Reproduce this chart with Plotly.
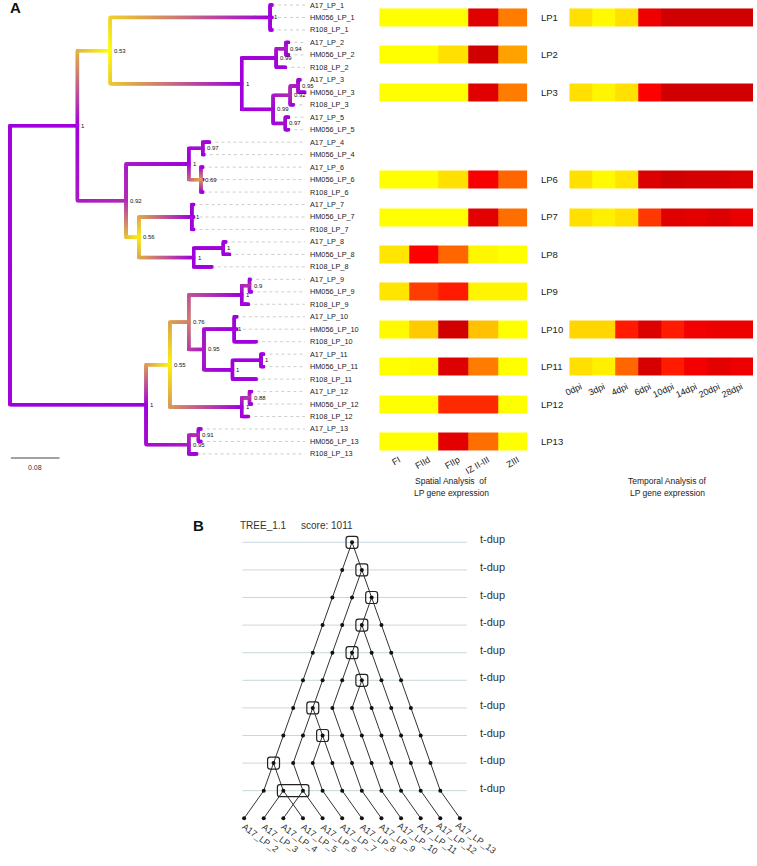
import numpy as np
import plotly.graph_objects as go

W, H = 757, 866
FONT = "Liberation Sans, Arial, sans-serif"

# ---------------- Panel A: phylogeny (node depth in substitutions/site) ----------------
node_ids = ["root", "n1", "n053", "nlp1", "n1b", "nlp2", "n094", "n099b", "n092b", "n095", "n097",
            "n092", "n1c", "n097c", "n069", "n056", "nlp7", "nlp8", "n1d",
            "n1e", "n055", "n076", "nlp9", "n09", "n095c", "nlp10", "nlp11", "n1f", "nlp12", "n088",
            "nlp13", "n091"]
node_parent = [None, "root", "n1", "n053", "n053", "n1b", "nlp2", "n1b", "n099b", "n092b", "n099b",
               "n1", "n092", "n1c", "n1c", "n092", "n056", "n056", "nlp8",
               "root", "n1e", "n055", "n076", "nlp9", "n076", "n095c", "n095c", "nlp11", "n055", "nlp12",
               "n1e", "nlp13"]
node_depth = [0.000, 0.111, 0.165, 0.428, 0.381, 0.438, 0.454, 0.433, 0.461, 0.474, 0.453,
              0.191, 0.294, 0.317, 0.314, 0.212, 0.299, 0.302, 0.351,
              0.224, 0.263, 0.294, 0.381, 0.394, 0.319, 0.369, 0.366, 0.413, 0.381, 0.394,
              0.294, 0.310]
node_support = [1.00, 1.00, 0.53, 1.00, 1.00, 0.99, 0.94, 0.99, 0.92, 0.95, 0.97,
                0.92, 1.00, 0.97, 0.69, 0.56, 1.00, 1.00, 1.00,
                1.00, 0.55, 0.76, 1.00, 0.90, 0.95, 1.00, 1.00, 1.00, 1.00, 0.88,
                0.95, 0.91]

leaf_names = ["A17_LP_1", "HM056_LP_1", "R108_LP_1", "A17_LP_2", "HM056_LP_2", "R108_LP_2",
              "A17_LP_3", "HM056_LP_3", "R108_LP_3", "A17_LP_5", "HM056_LP_5", "A17_LP_4", "HM056_LP_4",
              "A17_LP_6", "HM056_LP_6", "R108_LP_6", "A17_LP_7", "HM056_LP_7", "R108_LP_7",
              "A17_LP_8", "HM056_LP_8", "R108_LP_8", "A17_LP_9", "HM056_LP_9", "R108_LP_9",
              "A17_LP_10", "HM056_LP_10", "R108_LP_10", "A17_LP_11", "HM056_LP_11", "R108_LP_11",
              "A17_LP_12", "HM056_LP_12", "R108_LP_12", "A17_LP_13", "HM056_LP_13", "R108_LP_13"]
leaf_parent = ["nlp1", "nlp1", "nlp1", "n094", "n094", "nlp2",
               "n095", "n095", "n092b", "n097", "n097", "n097c", "n097c",
               "n069", "n069", "n069", "nlp7", "nlp7", "nlp7",
               "n1d", "n1d", "nlp8", "n09", "n09", "nlp9",
               "nlp10", "nlp10", "nlp10", "n1f", "n1f", "nlp11",
               "n088", "n088", "nlp12", "n091", "n091", "nlp13"]
leaf_depth = [0.431, 0.431, 0.431, 0.458, 0.458, 0.453,
              0.477, 0.485, 0.466, 0.458, 0.458, 0.328, 0.319,
              0.317, 0.317, 0.317, 0.302, 0.302, 0.302,
              0.355, 0.361, 0.332, 0.395, 0.397, 0.392,
              0.373, 0.373, 0.405, 0.417, 0.417, 0.405,
              0.397, 0.397, 0.392, 0.314, 0.314, 0.307]
scale_bar = 0.08

# ---------------- Panel A: expression heatmaps ----------------
spatial_cols = ["FI", "FIId", "FIIp", "IZ II-III", "ZIII"]
spatial_rows = ["LP1", "LP2", "LP3", "LP6", "LP7", "LP8", "LP9", "LP10", "LP11", "LP12", "LP13"]
spatial_vals = [
    [0.00, 0.00, 0.00, 0.88, 0.48],
    [0.00, 0.00, 0.12, 0.95, 0.36],
    [0.00, 0.00, 0.00, 0.88, 0.48],
    [0.00, 0.00, 0.12, 0.78, 0.55],
    [0.00, 0.00, 0.00, 0.87, 0.52],
    [0.10, 0.76, 0.55, 0.03, 0.00],
    [0.10, 0.63, 0.70, 0.04, 0.04],
    [0.02, 0.20, 0.95, 0.24, 0.00],
    [0.00, 0.02, 0.90, 0.48, 0.00],
    [0.00, 0.00, 0.67, 0.67, 0.00],
    [0.00, 0.00, 0.87, 0.52, 0.00],
]
temporal_cols = ["0dpi", "3dpi", "4dpi", "6dpi", "10dpi", "14dpi", "20dpi", "28dpi"]
temporal_rows = ["LP1", "LP3", "LP6", "LP7", "LP10", "LP11"]
temporal_vals = [
    [0.12, 0.02, 0.12, 0.82, 0.95, 0.95, 0.95, 0.95],
    [0.12, 0.04, 0.12, 0.75, 0.95, 0.95, 0.95, 0.95],
    [0.12, 0.02, 0.10, 0.90, 0.95, 0.93, 0.92, 0.90],
    [0.12, 0.06, 0.12, 0.64, 0.88, 0.86, 0.90, 0.84],
    [0.16, 0.16, 0.70, 0.90, 0.70, 0.80, 0.83, 0.83],
    [0.12, 0.06, 0.55, 0.92, 0.70, 0.80, 0.86, 0.82],
]

# ---------------- Panel B: tandem duplication tree ----------------
dup_blocks = [[0], [1], [2], [2], [2], [3], [1], [2], [0], [1, 2]]   # duplicating lineages per level
dup_leaves = ["A17_LP_2", "A17_LP_3", "A17_LP_4", "A17_LP_5", "A17_LP_6", "A17_LP_7",
              "A17_LP_8", "A17_LP_9", "A17_LP_10", "A17_LP_11", "A17_LP_12", "A17_LP_13"]
dup_level_label = "t-dup"
tree_name = "TREE_1.1"
tree_score = 1011

# ======================= layout scales =======================
PXU, X0 = 612.0, 5.0          # px per substitution unit, root x
PXL, Y0 = 12.47, 5.0          # px per leaf row, first leaf y
BX0, BXS = 240.7, 9.875       # panel B: x of first leaf, px per half leaf step
BY0, BYS = 542.3, 27.6        # panel B: y of level 1, px per level

fig = go.Figure()

# ---------- tree geometry ----------
parent = dict(zip(node_ids, node_parent)); parent.update(zip(leaf_names, leaf_parent))
depth = dict(zip(node_ids, node_depth)); depth.update(zip(leaf_names, leaf_depth))
support = dict(zip(node_ids, node_support)); support.update({l: 1.0 for l in leaf_names})
children = {n: [] for n in node_ids}
for lf in leaf_names:
    c = lf
    while parent[c] is not None:
        p = parent[c]
        if c not in children[p]:
            children[p].append(c)
        c = p
ypos = {lf: i for i, lf in enumerate(leaf_names)}


def gety(n):
    if n not in ypos:
        ys = [gety(c) for c in children[n]]
        ypos[n] = (ys[0] + ys[-1]) / 2.0
    return ypos[n]


gety("root")


def tcol(s):
    return float(np.clip((s - 0.53) / 0.47, 0, 1))


px_, py_, pc_ = [], [], []
for c in node_ids[1:] + leaf_names:
    p = parent[c]
    xp, yp, xc, yc = depth[p], ypos[p], depth[c], ypos[c]
    lv = abs(yc - yp) * PXL
    lh = (xc - xp) * PXU
    L = lv + lh
    n = max(2, int(np.ceil(L / 0.7)) + 1)
    s = np.linspace(0, L, n)
    xs = np.where(s <= lv, xp, xp + (s - lv) / PXU)
    ys = np.where(s <= lv, yp + np.sign(yc - yp) * s / PXL, yc)
    tp, tc = tcol(support[p]), tcol(support[c])
    cs = tp + (tc - tp) * s / max(L, 1e-9)
    px_ += list(xs); py_ += list(ys); pc_ += list(cs)

LABEL_D = (305 - X0) / PXU
LEAD_END = (302 - X0) / PXU
lx, ly = [], []
for lf in leaf_names:
    lx += [depth[lf], LEAD_END, None]
    ly += [ypos[lf], ypos[lf], None]
fig.add_trace(go.Scatter(x=lx, y=ly, mode="lines", xaxis="x", yaxis="y",
                         line=dict(color="#c0c0c0", width=0.8, dash="dot"), hoverinfo="skip"))
fig.add_trace(go.Scatter(x=px_, y=py_, mode="markers", xaxis="x", yaxis="y", hoverinfo="skip",
                         marker=dict(symbol="square", size=3.2, color=pc_, cmin=0, cmax=1,
                                     colorscale=[[0, "#FFFF00"], [1, "#A000DC"]],
                                     line=dict(width=0), showscale=False)))

ann = []
for lf in leaf_names:
    ann.append(dict(x=LABEL_D, y=ypos[lf], xref="x", yref="y", text=lf, showarrow=False,
                    xanchor="left", yanchor="middle", font=dict(size=7.3, color="#222")))
for nid, s in zip(node_ids[1:], node_support[1:]):
    txt = "1" if s == 1 else ("%g" % s)
    ann.append(dict(x=depth[nid], y=ypos[nid], xref="x", yref="y", text=txt, showarrow=False,
                    xanchor="left", yanchor="middle", xshift=2, font=dict(size=6, color="#111")))

# scale bar
sb_y = (458 - Y0) / PXL
shapes = [dict(type="line", xref="x", yref="y", x0=0.0015, x1=0.0015 + scale_bar, y0=sb_y, y1=sb_y,
               line=dict(color="#444", width=1))]
ann.append(dict(x=0.0015 + scale_bar / 2, y=sb_y, xref="x", yref="y", text="%g" % scale_bar,
                showarrow=False, yshift=-9, font=dict(size=7, color="#333")))

# ---------- heatmaps ----------
HCOLS = [[0, "#FFFF00"], [0.12, "#FFE000"], [0.35, "#FFA500"], [0.55, "#FF6600"],
         [0.75, "#FF0000"], [1, "#C40000"]]
HALF = 9.0 / PXL


def heat(rows, vals, xa, ya):
    edges, z = [], []
    for k, (r, v) in enumerate(zip(rows, vals)):
        c = ypos["HM056_LP_" + r[2:]]
        edges += [c - HALF, c + HALF]
        if k:
            z.append([None] * len(v))
        z.append(v)
    fig.add_trace(go.Heatmap(x=list(range(len(vals[0]))), y=edges, z=z, xaxis=xa, yaxis=ya,
                             colorscale=HCOLS, zmin=0, zmax=1, showscale=False, hoverinfo="skip"))


heat(spatial_rows, spatial_vals, "x2", "y2")
heat(temporal_rows, temporal_vals, "x3", "y3")
for r in spatial_rows:
    ann.append(dict(x=538 / W, y=ypos["HM056_LP_" + r[2:]], xref="paper", yref="y", text=r,
                    showarrow=False, xanchor="left", yanchor="middle", font=dict(size=9.5, color="#222")))
for t, xc in (("Spatial Analysis  of", 449), ("Temporal Analysis of", 667)):
    ann.append(dict(x=xc / W, y=1 - 481 / H, xref="paper", yref="paper", text=t, showarrow=False,
                    xanchor="center", yanchor="middle", font=dict(size=8.5, color="#222")))
    ann.append(dict(x=xc / W, y=1 - 493 / H, xref="paper", yref="paper", text="LP gene expression",
                    showarrow=False, xanchor="center", yanchor="middle", font=dict(size=8.5, color="#222")))

# ---------- panel B ----------
n_leaves = len(dup_leaves)
center = n_leaves - 1
cnt = 1
seg_x, seg_y, dot_x, dot_y, boxes = [], [], [], [], []


def bpos(n, j):
    return center - (n - 1) + 2 * j


for L, blk in enumerate(dup_blocks, start=1):
    m = len(blk)
    for j in range(cnt):
        dot_x.append(bpos(cnt, j)); dot_y.append(L)
        if j < blk[0]:
            kids = [j]
        elif j in blk:
            r = j - blk[0]
            kids = [blk[0] + r, blk[0] + m + r]
        else:
            kids = [j + m]
        for k in kids:
            seg_x += [bpos(cnt, j), bpos(cnt + m, k), None]
            seg_y += [L, L + 1, None]
    boxes.append((L, bpos(cnt, blk[0]), bpos(cnt, blk[-1])))
    cnt += m
leaf_level = len(dup_blocks) + 1
for j in range(cnt):
    dot_x.append(bpos(cnt, j)); dot_y.append(leaf_level)

for L in range(1, len(dup_blocks) + 1):
    shapes.append(dict(type="line", xref="x4", yref="y4", x0=-0.17, x1=22.7, y0=L, y1=L, layer="below",
                       line=dict(color="#c9d7db", width=1)))
    ann.append(dict(x=(476 - BX0) / BXS, y=L, xref="x4", yref="y4", text=dup_level_label, showarrow=False,
                    xanchor="left", yanchor="middle", yshift=3, font=dict(size=11, color="#333")))

fig.add_trace(go.Scatter(x=seg_x, y=seg_y, mode="lines", xaxis="x4", yaxis="y4",
                         line=dict(color="#333", width=1), hoverinfo="skip"))
fig.add_trace(go.Scatter(x=dot_x, y=dot_y, mode="markers", xaxis="x4", yaxis="y4",
                         marker=dict(size=4, color="#111"), hoverinfo="skip"))


def rrect(x0, x1, y0, y1, rx, ry):
    return (f"M{x0+rx},{y0} L{x1-rx},{y0} Q{x1},{y0} {x1},{y0+ry} L{x1},{y1-ry} "
            f"Q{x1},{y1} {x1-rx},{y1} L{x0+rx},{y1} Q{x0},{y1} {x0},{y1-ry} "
            f"L{x0},{y0+ry} Q{x0},{y0} {x0+rx},{y0} Z")


hx, hy = 6.0 / BXS, 6.0 / BYS
for L, a, b in boxes:
    shapes.append(dict(type="path", xref="x4", yref="y4",
                       path=rrect(a - hx, b + hx, L - hy, L + hy, 2.5 / BXS, 2.5 / BYS),
                       line=dict(color="#222", width=1.2)))

for j, name in enumerate(dup_leaves):
    ann.append(dict(x=2 * j, y=leaf_level, xref="x4", yref="y4", text=name, showarrow=False,
                    textangle=36, xanchor="center", yanchor="middle", xshift=16, yshift=-20,
                    font=dict(size=9, color="#333")))
ann.append(dict(x=235 / W, y=1 - 525 / H, xref="paper", yref="paper", text=tree_name, showarrow=False,
                xanchor="left", yanchor="middle", font=dict(size=10, color="#333")))
ann.append(dict(x=296 / W, y=1 - 525 / H, xref="paper", yref="paper", text="score: %d" % tree_score,
                showarrow=False, xanchor="left", yanchor="middle", font=dict(size=10, color="#333")))

# panel letters
ann.append(dict(x=3 / W, y=1 - 8 / H, xref="paper", yref="paper", text="<b>A</b>", showarrow=False,
                xanchor="left", yanchor="middle", font=dict(size=15, color="#111")))
ann.append(dict(x=187 / W, y=1 - 525 / H, xref="paper", yref="paper", text="<b>B</b>", showarrow=False,
                xanchor="left", yanchor="middle", font=dict(size=15, color="#111")))

hidden = dict(visible=False, showgrid=False, zeroline=False)
fig.update_layout(
    width=W, height=H, margin=dict(l=0, r=0, t=0, b=0), showlegend=False,
    paper_bgcolor="white", plot_bgcolor="rgba(0,0,0,0)", font=dict(family=FONT),
    xaxis=dict(domain=[0, 1], range=[-X0 / PXU, (W - X0) / PXU], **hidden),
    yaxis=dict(domain=[0, 1], range=[(H - Y0) / PXL, -Y0 / PXL], **hidden),
    xaxis2=dict(domain=[376.7 / W, 526 / W], anchor="y2", range=[-0.5, 4.5],
                tickvals=list(range(5)), ticktext=spatial_cols, tickangle=-30, ticks="",
                showgrid=False, zeroline=False, showline=False, ticklabelshift=5,
                tickfont=dict(size=9, color="#222")),
    yaxis2=dict(domain=[1 - 452 / H, 1], anchor="x2", range=[(452 - Y0) / PXL, -Y0 / PXL], **hidden),
    xaxis3=dict(domain=[568 / W, 753 / W], anchor="y3", range=[-0.5, 7.5],
                tickvals=list(range(8)), ticktext=temporal_cols, tickangle=-25, ticks="",
                showgrid=False, zeroline=False, showline=False,
                tickfont=dict(size=9, color="#222")),
    yaxis3=dict(domain=[1 - 379 / H, 1], anchor="x3", range=[(379 - Y0) / PXL, -Y0 / PXL], **hidden),
    xaxis4=dict(domain=[0, 1], anchor="y4", range=[-BX0 / BXS, (W - BX0) / BXS], **hidden),
    yaxis4=dict(domain=[0, 1], anchor="x4", range=[1 + (H - BY0) / BYS, 1 - BY0 / BYS], **hidden),
    shapes=shapes, annotations=ann,
)
fig.write_html("out.html", config={"displayModeBar": False, "staticPlot": True},
               post_script="document.body.style.margin='0';"
                           "document.documentElement.style.overflow='hidden';")
